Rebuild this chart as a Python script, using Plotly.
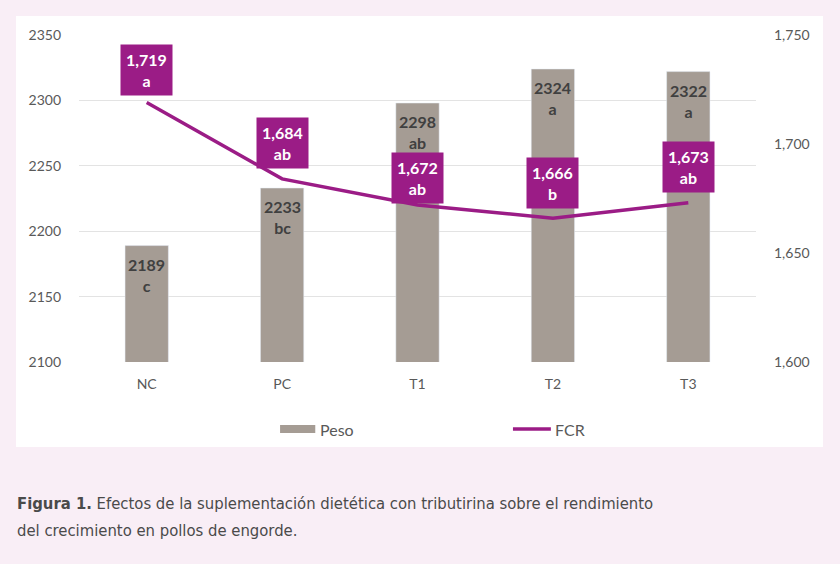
import plotly.graph_objects as go

categories = ["NC", "PC", "T1", "T2", "T3"]
peso = [2189, 2233, 2298, 2324, 2322]
peso_letters = ["c", "bc", "ab", "a", "a"]
fcr = [1.719, 1.684, 1.672, 1.666, 1.673]
fcr_letters = ["a", "ab", "ab", "b", "ab"]
left_ticks = [2100, 2150, 2200, 2250, 2300, 2350]
right_ticks = [1.600, 1.650, 1.700, 1.750]
right_tick_labels = ["1,600", "1,650", "1,700", "1,750"]

BAR = "#a59c94"
PURPLE = "#9b1c86"
PINK = "#f9eef6"
GREY = "#595959"
FONT = "Lato, Open Sans, sans-serif"
# pixel gap between each FCR label box and its point (style only)
fcr_label_gap = [7, 10, 1, 9, 10]

fig = go.Figure()
fig.add_trace(go.Bar(x=categories, y=peso, name="Peso", marker_color=BAR,
                     width=0.32, showlegend=False, hoverinfo="skip"))
fig.add_trace(go.Scatter(x=categories, y=fcr, name="FCR", yaxis="y2", mode="lines",
                         line=dict(color=PURPLE, width=3.5), showlegend=False))

ann = []
for c, v, l in zip(categories, peso, peso_letters):
    ann.append(dict(x=c, y=v, xref="x", yref="y", yanchor="top", yshift=-7,
                    text=f"<b>{v}<br>{l}</b>", showarrow=False,
                    font=dict(family=FONT, size=16, color="#404040")))
for c, v, l, g in zip(categories, fcr, fcr_letters, fcr_label_gap):
    ann.append(dict(x=c, y=v, xref="x", yref="y2", yanchor="bottom", yshift=g,
                    text=f"<b>{v:.3f}".replace(".", ",") + f"<br>{l}</b>", showarrow=False,
                    bgcolor=PURPLE, borderpad=5,
                    font=dict(family=FONT, size=16, color="white")))

# legend (drawn)
ann.append(dict(xref="paper", yref="paper", x=0.353, y=-0.205, xanchor="left", yanchor="middle",
                text="Peso", showarrow=False, font=dict(family=FONT, size=16, color=GREY)))
ann.append(dict(xref="paper", yref="paper", x=0.700, y=-0.205, xanchor="left", yanchor="middle",
                text="FCR", showarrow=False, font=dict(family=FONT, size=16, color=GREY)))
# caption
CAP = "DejaVu Sans Condensed, DejaVu Sans, sans-serif"
ann.append(dict(xref="paper", yref="paper", x=-0.095, y=-0.433, xanchor="left", yanchor="middle",
                text="<b>Figura 1.</b> Efectos de la suplementación dietética con tributirina sobre el rendimiento",
                showarrow=False, font=dict(family=CAP, size=16.5, color="#4a4a4a")))
ann.append(dict(xref="paper", yref="paper", x=-0.095, y=-0.514, xanchor="left", yanchor="middle",
                text="del crecimiento en pollos de engorde.",
                showarrow=False, font=dict(family=CAP, size=16.5, color="#4a4a4a")))

shapes = [
    dict(type="rect", xref="paper", yref="paper", x0=-0.093, x1=1.099, y0=-0.26, y1=1.058,
         fillcolor="white", line=dict(width=0), layer="below"),
    dict(type="rect", xref="paper", yref="paper", x0=0.297, x1=0.349, y0=-0.217, y1=-0.193,
         fillcolor=BAR, line=dict(width=0)),
    dict(type="line", xref="paper", yref="paper", x0=0.641, x1=0.697, y0=-0.205, y1=-0.205,
         line=dict(color=PURPLE, width=3.5)),
]

fig.update_layout(
    width=840, height=564,
    margin=dict(l=79, r=84, t=35, b=202),
    paper_bgcolor=PINK, plot_bgcolor="white",
    font=dict(family=FONT, size=14, color=GREY),
    xaxis=dict(showgrid=False, showline=False, ticks="", ticklabelstandoff=12,
               tickfont=dict(size=14, color=GREY)),
    yaxis=dict(range=[2100, 2350], tickvals=left_ticks, tickformat="d",
               showgrid=True, gridcolor="#e3e3e3", gridwidth=1.3, zeroline=False,
               showline=False, ticks="", ticklabelstandoff=17,
               tickfont=dict(size=14, color=GREY)),
    yaxis2=dict(range=[1.6, 1.75], overlaying="y", side="right", showgrid=False,
                tickvals=right_ticks, ticktext=right_tick_labels, zeroline=False,
                ticks="", ticklabelstandoff=17, tickfont=dict(size=14, color=GREY)),
    annotations=ann, shapes=shapes,
)
fig.write_html("out.html", config={"displayModeBar": False},
               post_script="document.body.style.margin='0';document.body.style.background='#f9eef6';")
